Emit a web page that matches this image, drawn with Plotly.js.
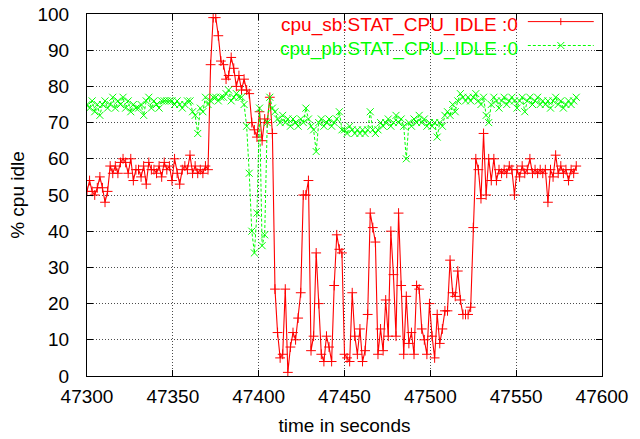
<!DOCTYPE html>
<html>
<head>
<meta charset="utf-8">
<script src="https://cdn.plot.ly/plotly-3.0.1.min.js"></script>
<style>
html,body{margin:0;padding:0;background:#fff;}
#chart{width:640px;height:439px;}
</style>
</head>
<body>
<div id="chart"></div>
<script>
// time axis: first sample and sampling step (seconds)
const startTime = 47300;
const stepSeconds = 1.5;

const seriesNames = ["cpu_sb:STAT_CPU_IDLE :0", "cpu_pb:STAT_CPU_IDLE :0"];

const cpuSbIdle = [
  51,54,51,50,52,55,52,48,51,58,
  56,58,56,59,60,59,56,60,54,57,
  57,55,58,53,59,57,57,56,58,55,
  59,57,58,54,60,56,53,57,58,57,
  61,56,58,56,57,56,58,57,86,99,
  99,94,87,86,82,83,88,85,80,83,
  79,82,79,78,70,68,66,73,65,71,
  70,77,67,24,12,5,6,24,1,8,
  12,10,16,23,50,50,54,7,11,34,
  20,6,4,11,8,4,25,39,35,34,
  6,5,4,23,11,6,13,4,7,17,
  45,41,37,6,13,7,21,11,40,28,
  11,45,25,6,22,9,12,6,25,24,
  13,10,6,20,11,5,17,9,13,18,
  18,32,23,22,29,21,17,17,17,19,
  41,60,57,49,67,50,60,54,60,54,
  57,56,57,56,58,57,50,57,55,58,
  56,57,60,56,57,56,57,56,57,48,
  57,55,61,56,58,56,57,54,57,56,
  58
];

const cpuPbIdle = [
  75,74,76,73,75,72,75,76,74,75,
  77,74,76,75,77,74,76,73,75,74,
  74,75,72,76,77,74,76,75,74,76,
  76,76,76,76,75,76,75,74,75,76,
  76,73,72,67,74,73,77,75,76,77,
  77,76,77,77,78,79,76,77,78,77,
  77,75,69,56,40,34,45,74,36,39,
  70,77,74,73,71,70,72,70,71,69,
  71,70,69,71,70,74,71,69,68,62,
  70,71,69,70,71,69,70,71,73,68,
  68,67,69,68,67,68,67,68,67,68,
  73,68,67,68,70,69,70,71,69,70,
  72,70,71,69,60,70,69,71,70,72,
  70,71,69,70,69,70,66,70,69,72,
  73,72,75,73,76,78,77,76,77,76,
  77,78,76,75,77,72,70,75,77,76,
  74,76,77,75,76,77,76,74,76,77,
  73,76,77,75,76,77,75,76,75,76,
  74,76,77,75,76,74,75,76,75,76,
  77
];

const xTicks = [47300, 47350, 47400, 47450, 47500, 47550, 47600];
const yTicks = [0, 10, 20, 30, 40, 50, 60, 70, 80, 90, 100];

const RED = "#ff0000";
const GREEN = "#00ff00";
const FONT = "Liberation Sans, Arial, Helvetica, sans-serif";
const GRID = "rgba(0,0,0,0.7)";

const traces = [
  {
    type: "scatter", mode: "lines+markers", name: seriesNames[0],
    x0: startTime, dx: stepSeconds, y: cpuSbIdle,
    line: {color: RED, width: 1.1},
    marker: {symbol: "cross-thin-open", size: 7, line: {color: RED, width: 1}, color: RED}
  },
  {
    type: "scatter", mode: "lines+markers", name: seriesNames[1],
    x0: startTime, dx: stepSeconds, y: cpuPbIdle,
    line: {color: GREEN, width: 1, dash: "3px,2px"},
    marker: {symbol: "x-thin-open", size: 7, line: {color: GREEN, width: 1}, color: GREEN}
  }
];

// legend (gnuplot style: text, then sample line with point) in paper coords
const lx0 = 0.856, lx1 = 0.984, lxm = 0.92;
const ly1 = 0.979, ly2 = 0.913;
const textShift = 0.009;
const mdx = 0.0068, mdy = 0.0097;

const layout = {
  width: 640, height: 439,
  margin: {l: 87, r: 38, t: 14, b: 63},
  paper_bgcolor: "#fff", plot_bgcolor: "#fff",
  showlegend: false,
  font: {family: FONT, size: 19, color: "#000"},
  xaxis: {
    range: [47300, 47600], tickvals: xTicks, ticktext: xTicks.map(String),
    showline: true, linecolor: "#000", linewidth: 1, mirror: "ticks",
    ticks: "inside", ticklen: 6, tickcolor: "#000",
    showgrid: true, gridcolor: GRID, griddash: "1px,2px", gridwidth: 1,
    zeroline: false, ticklabelstandoff: 3,
    title: {text: "time in seconds", font: {size: 19}, standoff: 12},
    tickfont: {size: 19}
  },
  yaxis: {
    range: [0, 100], tickvals: yTicks, ticktext: yTicks.map(String),
    showline: true, linecolor: "#000", linewidth: 1, mirror: "ticks",
    ticks: "inside", ticklen: 6, tickcolor: "#000",
    showgrid: true, gridcolor: GRID, griddash: "1px,2px", gridwidth: 1,
    zeroline: false, ticklabelstandoff: 13,
    title: {text: "% cpu idle", font: {size: 19}, standoff: 7},
    tickfont: {size: 19}
  },
  shapes: [
    {type: "rect", xref: "paper", yref: "paper", x0: 0.311, x1: 1, y0: 0.882, y1: 1,
     fillcolor: "#fff", line: {width: 0}, layer: "between"},
    {type: "line", xref: "paper", yref: "paper", x0: lx0, x1: lx1, y0: ly1, y1: ly1,
     line: {color: RED, width: 1}},
    {type: "line", xref: "paper", yref: "paper", x0: lxm, x1: lxm, y0: ly1 - mdy, y1: ly1 + mdy,
     line: {color: RED, width: 1}},
    {type: "line", xref: "paper", yref: "paper", x0: lx0, x1: lx1, y0: ly2, y1: ly2,
     line: {color: GREEN, width: 1, dash: "3px,2px"}},
    {type: "line", xref: "paper", yref: "paper", x0: lxm - mdx, x1: lxm + mdx, y0: ly2 - mdy, y1: ly2 + mdy,
     line: {color: GREEN, width: 1}},
    {type: "line", xref: "paper", yref: "paper", x0: lxm - mdx, x1: lxm + mdx, y0: ly2 + mdy, y1: ly2 - mdy,
     line: {color: GREEN, width: 1}}
  ],
  annotations: [
    {xref: "paper", yref: "paper", x: 0.841, y: ly1 - textShift, xanchor: "right", yanchor: "middle",
     text: seriesNames[0], showarrow: false, font: {color: RED, size: 19}},
    {xref: "paper", yref: "paper", x: 0.841, y: ly2 - textShift, xanchor: "right", yanchor: "middle",
     text: seriesNames[1], showarrow: false, font: {color: GREEN, size: 19}}
  ]
};

Plotly.newPlot("chart", traces, layout, {displayModeBar: false, staticPlot: true});
</script>
</body>
</html>
